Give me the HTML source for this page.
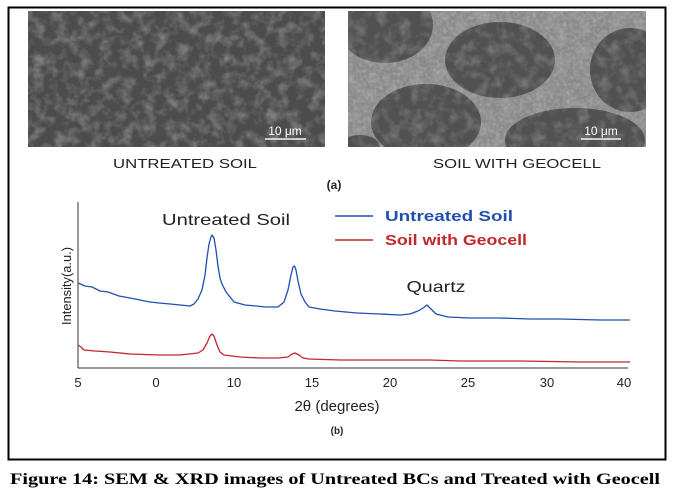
<!DOCTYPE html>
<html><head><meta charset="utf-8"><style>
html,body{margin:0;padding:0;background:#fff;}
body{width:673px;height:499px;overflow:hidden;}
</style></head><body>
<svg width="673" height="499" viewBox="0 0 673 499" xmlns="http://www.w3.org/2000/svg">
<defs>
<filter id="tex" x="0" y="0" width="100%" height="100%">
<feTurbulence type="fractalNoise" baseFrequency="0.09" numOctaves="3" seed="3"/>
<feColorMatrix type="matrix" values="0 0 0 0 0.5  0 0 0 0 0.5  0 0 0 0 0.5  0 0 0 -2.2 1.3"/>
</filter>
<filter id="tex2" x="0" y="0" width="100%" height="100%">
<feTurbulence type="fractalNoise" baseFrequency="0.3" numOctaves="2" seed="7"/>
<feColorMatrix type="matrix" values="0 0 0 0 0.75  0 0 0 0 0.75  0 0 0 0 0.75  0 0 0 -2 1.2"/>
</filter>
<clipPath id="cr"><rect x="348" y="11" width="298" height="136"/></clipPath>
</defs>
<rect x="8.5" y="7.5" width="657" height="452" fill="none" stroke="#000" stroke-width="2"/>
<!-- left SEM -->
<rect x="28" y="11" width="297" height="136" fill="#4c4c4c"/>
<rect x="28" y="11" width="297" height="136" filter="url(#tex)" opacity="0.45"/>
<line x1="265" y1="139" x2="306" y2="139" stroke="#f2f2f2" stroke-width="1.5"/>
<text x="285" y="135" font-family="Liberation Sans, sans-serif" font-size="12" fill="#fff" text-anchor="middle">10 μm</text>
<!-- right SEM -->
<g clip-path="url(#cr)">
<rect x="348" y="11" width="298" height="136" fill="#8a8a8a"/>
<rect x="348" y="11" width="298" height="136" filter="url(#tex2)" opacity="0.3"/>
<g fill="#515151">
<ellipse cx="500" cy="60" rx="55" ry="38"/>
<ellipse cx="426" cy="122" rx="55" ry="38"/>
<ellipse cx="575" cy="140" rx="70" ry="32"/>
<ellipse cx="385" cy="25" rx="48" ry="38"/>
<ellipse cx="630" cy="70" rx="40" ry="42"/>
<ellipse cx="360" cy="147" rx="20" ry="12"/>
</g>
<g filter="url(#tex)" opacity="0.35">
<ellipse cx="500" cy="60" rx="55" ry="38"/>
<ellipse cx="426" cy="122" rx="55" ry="38"/>
<ellipse cx="575" cy="140" rx="70" ry="32"/>
<ellipse cx="385" cy="25" rx="48" ry="38"/>
<ellipse cx="630" cy="70" rx="40" ry="42"/>
</g>
</g>
<line x1="581" y1="139" x2="621" y2="139" stroke="#f2f2f2" stroke-width="1.5"/>
<text x="601" y="135" font-family="Liberation Sans, sans-serif" font-size="12" fill="#fff" text-anchor="middle">10 μm</text>
<text x="185" y="168" font-family="Liberation Sans, sans-serif" font-size="13" fill="#222" text-anchor="middle" textLength="144" lengthAdjust="spacingAndGlyphs">UNTREATED SOIL</text>
<text x="517" y="168" font-family="Liberation Sans, sans-serif" font-size="13" fill="#222" text-anchor="middle" textLength="168" lengthAdjust="spacingAndGlyphs">SOIL WITH GEOCELL</text>
<text x="334" y="189" font-family="Liberation Sans, sans-serif" font-size="12" font-weight="bold" fill="#222" text-anchor="middle">(a)</text>
<!-- chart axes -->
<line x1="78" y1="202" x2="78" y2="368" stroke="#333" stroke-width="1"/>
<line x1="78" y1="368" x2="628" y2="368" stroke="#333" stroke-width="1"/>
<g font-family="Liberation Sans, sans-serif" font-size="13" fill="#222" text-anchor="middle">
<text x="78" y="387">5</text><text x="156" y="387">0</text><text x="234" y="387">10</text><text x="312" y="387">15</text><text x="390" y="387">20</text><text x="468" y="387">25</text><text x="547" y="387">30</text><text x="624" y="387">40</text>
<text x="337" y="411" font-size="15">2θ (degrees)</text>
<text x="337" y="434" font-size="10" font-weight="bold">(b)</text>
<text x="0" y="0" font-size="13" text-anchor="middle" transform="translate(71,286) rotate(-90)" textLength="78" lengthAdjust="spacingAndGlyphs">Intensity(a.u.)</text>
<text x="226" y="225" font-size="16" textLength="128" lengthAdjust="spacingAndGlyphs">Untreated Soil</text>
<text x="436" y="292" font-size="16" textLength="59" lengthAdjust="spacingAndGlyphs">Quartz</text>
</g>
<line x1="335" y1="216" x2="373" y2="216" stroke="#1f4fb0" stroke-width="1.5"/>
<text x="385" y="221" font-family="Liberation Sans, sans-serif" font-size="15" font-weight="bold" fill="#1f4fb0" textLength="128" lengthAdjust="spacingAndGlyphs">Untreated Soil</text>
<line x1="335" y1="240" x2="373" y2="240" stroke="#c0282b" stroke-width="1.5"/>
<text x="385" y="245" font-family="Liberation Sans, sans-serif" font-size="15" font-weight="bold" fill="#c0282b" textLength="142" lengthAdjust="spacingAndGlyphs">Soil with Geocell</text>
<!-- blue series -->
<polyline fill="none" stroke="#1f4fb0" stroke-width="1.3" stroke-linejoin="round" points="78,283 85,286 92,287 100,291 108,292 119,296 130,298 140,300 150,302 159,303 170,304 180,305 190,306 194,304 198,299 202,290 205,275 207,258 209,244 211,237 212,235 214,238 216,250 218,266 220,278 222,284 226,292 230,297 234,302 245,305 256,306 266,307 278,307 284,302 288,290 291,275 293,267 294.5,266 296,270 298,281 301,294 305,302 309,307 320,309 335,311 357,313 380,314 400,315 410,314 418,311 423,308 427,305 431,309 436,314 448,317 470,318 500,318 530,319 560,319 600,320 630,320"/>
<!-- red series -->
<polyline fill="none" stroke="#c0282b" stroke-width="1.3" stroke-linejoin="round" points="78,345 81,347 84,350 95,351 110,352 130,354 159,355 180,355 198,353 203,350 207,343 210,336 212,334 214,336 217,345 220,352 224,355 240,357 260,358 278,358 288,357 292,354 295,353 299,355 303,358 309,359 340,360 400,360 430,360 460,361 520,361 580,362 630,362"/>
<text x="335" y="484" font-family="Liberation Serif, serif" font-size="16" font-weight="bold" fill="#000" text-anchor="middle" textLength="650" lengthAdjust="spacingAndGlyphs">Figure 14: SEM &amp; XRD images of Untreated BCs and Treated with Geocell</text>
</svg>
</body></html>
